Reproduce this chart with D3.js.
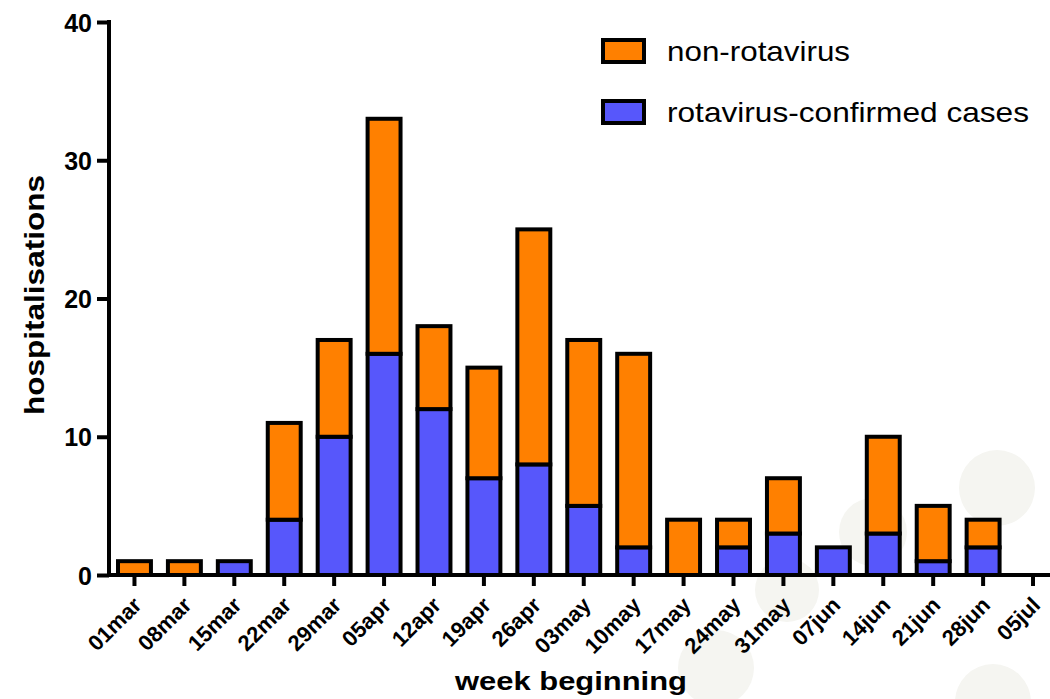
<!DOCTYPE html>
<html>
<head>
<meta charset="utf-8">
<script src="https://cdn.jsdelivr.net/npm/d3@7"></script>
<style>
  html, body { margin: 0; padding: 0; background: #fff; }
  svg { display: block; font-family: "Liberation Sans", Arial, sans-serif; }
</style>
</head>
<body>
<svg id="chart" width="1050" height="699"></svg>
<script>
// ---- data ----
const weeks = ["01mar","08mar","15mar","22mar","29mar","05apr","12apr","19apr","26apr",
               "03may","10may","17may","24may","31may","07jun","14jun","21jun","28jun","05jul"];
const rotavirus = [0,0,1,4,10,16,12,7,8,5,2,0,2,3,2,3,1,2,0];
const nonRotavirus = [1,1,0,7,7,17,6,8,17,12,14,4,2,4,0,7,4,2,0];
const yTicks = [0,10,20,30,40];
const seriesNames = ["non-rotavirus","rotavirus-confirmed cases"];
const seriesColors = ["#ff8000","#5757fb"];

// faint background blotches present in the reference image
const blotches = [[997,488,38],[873,532,34],[787,590,32],[716,668,38],[993,702,38]];

const svg = d3.select("#chart");

svg.append("g").selectAll("circle").data(blotches).join("circle")
  .attr("cx", d => d[0]).attr("cy", d => d[1]).attr("r", d => d[2])
  .attr("fill", "#f5f5f1");

const x = d3.scaleBand().domain(weeks)
  .range([116, 116 + 49.92 * (19 - 0.26)])
  .paddingInner(0.26).paddingOuter(0);
const y = d3.scaleLinear().domain([0, 40]).range([575, 22]);

const rows = weeks.map((w, i) => ({ w, rota: rotavirus[i], non: nonRotavirus[i] }));

// bars
const gBars = svg.append("g");
const sw = 4;
rows.forEach(r => {
  const x0 = x(r.w) + sw / 2, bw = x.bandwidth() - sw;
  if (r.rota > 0) {
    gBars.append("rect")
      .attr("x", x0).attr("width", bw)
      .attr("y", y(r.rota)).attr("height", y(0) - y(r.rota))
      .attr("fill", seriesColors[1]).attr("stroke", "#000").attr("stroke-width", sw);
  }
  if (r.non > 0) {
    gBars.append("rect")
      .attr("x", x0).attr("width", bw)
      .attr("y", y(r.rota + r.non)).attr("height", y(r.rota) - y(r.rota + r.non))
      .attr("fill", seriesColors[0]).attr("stroke", "#000").attr("stroke-width", sw);
  }
});

// y axis
const yAxis = svg.append("g").attr("transform", "translate(109,0)")
  .call(d3.axisLeft(y).tickValues(yTicks).tickSize(12).tickPadding(5));
yAxis.select(".domain").attr("stroke-width", 4).attr("d", `M0,${y(40) - 2}V${y(0) + 2}`);
yAxis.selectAll(".tick line").attr("stroke-width", 4);
yAxis.selectAll(".tick text")
  .attr("font-size", 25).attr("font-weight", "bold").attr("fill", "#000")
  .attr("dy", "0.36em");

// x axis
const xAxis = svg.append("g").attr("transform", `translate(0,${y(0)})`)
  .call(d3.axisBottom(x).tickSize(11).tickSizeOuter(0));
xAxis.select(".domain").attr("stroke-width", 4).attr("d", "M107,0H1050");
xAxis.selectAll(".tick line").attr("stroke-width", 4);
xAxis.selectAll(".tick text")
  .attr("font-size", 22).attr("font-weight", "bold").attr("fill", "#000")
  .attr("text-anchor", "end")
  .attr("transform", "translate(3,26) rotate(-45)")
  .attr("x", 0).attr("y", 0).attr("dy", "0.35em");

// axis titles
svg.append("text")
  .attr("transform", "translate(44,295) rotate(-90)")
  .attr("text-anchor", "middle")
  .attr("font-size", 27).attr("font-weight", "bold")
  .attr("textLength", 240).attr("lengthAdjust", "spacingAndGlyphs")
  .text("hospitalisations");

svg.append("text")
  .attr("x", 571).attr("y", 690)
  .attr("text-anchor", "middle")
  .attr("font-size", 26).attr("font-weight", "bold")
  .attr("textLength", 232).attr("lengthAdjust", "spacingAndGlyphs")
  .text("week beginning");

// legend
const legend = svg.append("g");
const legendRows = [
  { name: seriesNames[0], color: seriesColors[0], y: 51, tl: 183 },
  { name: seriesNames[1], color: seriesColors[1], y: 112, tl: 362 }
];
legendRows.forEach(l => {
  legend.append("rect")
    .attr("x", 603).attr("y", l.y - 11).attr("width", 41).attr("height", 22)
    .attr("fill", l.color).attr("stroke", "#000").attr("stroke-width", 4);
  legend.append("text")
    .attr("x", 667).attr("y", l.y + 10)
    .attr("font-size", 28)
    .attr("textLength", l.tl).attr("lengthAdjust", "spacingAndGlyphs")
    .text(l.name);
});
</script>
</body>
</html>
